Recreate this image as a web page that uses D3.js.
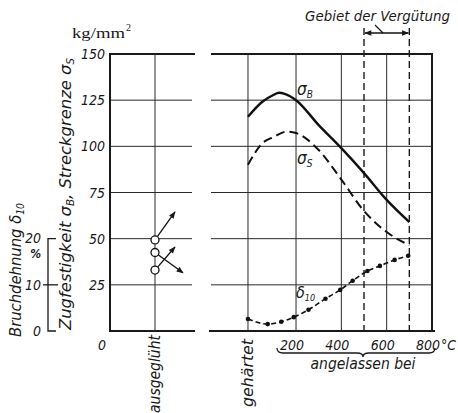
<!DOCTYPE html>
<html>
<head>
<meta charset="utf-8">
<script src="https://cdn.jsdelivr.net/npm/d3@7"></script>
<style>
  body { margin: 0; background: #fff; }
  svg { display: block; }
  text { font-family: "Liberation Sans Narrow", "DejaVu Sans Condensed", sans-serif; font-style: italic; fill: #1a1a1a; }
  .unit { font-family: "Liberation Serif", "DejaVu Serif", serif; font-style: normal; }
  .grid { stroke: #2a2a2a; stroke-width: 1; }
  .frame { stroke: #1a1a1a; stroke-width: 2; }
</style>
</head>
<body>
<div id="chart"></div>
<script>
// values
const kgTicks = [0, 25, 50, 75, 100, 125, 150];
const pctTicks = [0, 10, 20];
const tempTicks = [200, 400, 600, 800];
const hardenedT = -12;          // "gehärtet" column, drawn just left of 0 °C
const quenchDashes = [500, 700]; // Gebiet der Vergütung

const sigmaBTemps = [hardenedT, 50, 100, 125, 150, 200, 300, 400, 500, 600, 700];
const sigmaB      = [116, 124, 127.8, 129, 128.4, 125, 111.5, 99, 85.5, 71, 59];

const sigmaSTemps = [hardenedT, 50, 100, 160, 200, 300, 400, 500, 600, 700];
const sigmaS      = [90, 101.5, 105, 108, 107.2, 98, 82, 65, 53.6, 46.5];

const deltaTemps = [hardenedT, 75, 135, 190, 255, 330, 395, 450, 515, 570, 635, 695];
const delta10    = [2.6, 1.5, 2.0, 3.0, 4.6, 7.0, 8.9, 10.9, 13.0, 14.1, 15.4, 16.3];

// annealed state (ausgeglüht) and the direction each value moves to
const annealed = [
    {name: "sB", value: 49.3, to: 64.5, scale: "kg", dx: 20},
    {name: "d10", value: 17, to: 12.6, scale: "pct", dx: 28},
    {name: "sS", value: 33, to: 45.5, scale: "kg", dx: 20}
];

/**********************
***** BASIC SETUP *****
**********************/

const width = 458;
const height = 413;
const leftPanel = [110, 194];
const rightPanel = [211, 432];

const svg = d3.select("#chart")
    .append("svg")
    .attr("width", width)
    .attr("height", height);

const defs = svg.append("defs");
defs.append("marker")
    .attr("id", "arrow")
    .attr("viewBox", "0 0 10 10")
    .attr("refX", 9).attr("refY", 5)
    .attr("markerWidth", 9).attr("markerHeight", 7)
    .attr("markerUnits", "userSpaceOnUse")
    .attr("orient", "auto-start-reverse")
    .append("path")
    .attr("d", "M0,1 L10,5 L0,9 Z")
    .attr("fill", "#1a1a1a");

/*****************
***** SCALES *****
*****************/

const yKg = d3.scaleLinear().domain([0, 150]).range([331, 54]);
const yPct = d3.scaleLinear().domain([0, 20]).range([yKg(0), yKg(50)]);
const xT = d3.scaleLinear().domain([0, 800]).range([250.7, 432]);
const xL = d3.scalePoint().domain(["ausgeglüht"]).range([leftPanel[0], 200]);

/*******************
***** GRIDLINES *****
*******************/

const grid = svg.append("g");

// horizontal lines, both panels
kgTicks.filter(d => d > 0 && d < 150).forEach(v => {
    grid.append("line").attr("class", "grid")
        .attr("x1", leftPanel[0]).attr("x2", leftPanel[1] - 2)
        .attr("y1", yKg(v)).attr("y2", yKg(v));
    grid.append("line").attr("class", "grid")
        .attr("x1", rightPanel[0]).attr("x2", rightPanel[1])
        .attr("y1", yKg(v)).attr("y2", yKg(v));
});

// top and bottom frame lines
[150, 0].forEach(v => {
    grid.append("line").attr("class", "frame")
        .attr("x1", leftPanel[0] - 1).attr("x2", leftPanel[1] + 1)
        .attr("y1", yKg(v)).attr("y2", yKg(v));
    grid.append("line").attr("class", "frame")
        .attr("x1", rightPanel[0] - (v === 0 ? 2 : 0)).attr("x2", rightPanel[1] + (v === 0 ? 3 : 1))
        .attr("y1", yKg(v)).attr("y2", yKg(v));
});

// left border, right border
grid.append("line").attr("class", "frame")
    .attr("x1", leftPanel[0]).attr("x2", leftPanel[0])
    .attr("y1", yKg(150)).attr("y2", yKg(0));
grid.append("line").attr("class", "frame")
    .attr("x1", xT(800)).attr("x2", xT(800))
    .attr("y1", yKg(150)).attr("y2", yKg(0));

// vertical lines
grid.append("line").attr("class", "grid")
    .attr("x1", xL("ausgeglüht")).attr("x2", xL("ausgeglüht"))
    .attr("y1", yKg(150)).attr("y2", yKg(0));
[hardenedT, 200, 400, 600].forEach(t => {
    grid.append("line").attr("class", "grid")
        .attr("x1", xT(t)).attr("x2", xT(t))
        .attr("y1", yKg(150)).attr("y2", yKg(0));
});
quenchDashes.forEach(t => {
    grid.append("line")
        .attr("x1", xT(t)).attr("x2", xT(t))
        .attr("y1", 28).attr("y2", yKg(0))
        .attr("stroke", "#1a1a1a")
        .attr("stroke-width", 1.4)
        .attr("stroke-dasharray", "7,4");
});

/*******************
***** AXIS TEXT *****
*******************/

const labels = svg.append("g");

labels.selectAll(".kgTick")
    .data(kgTicks.filter(d => d > 0))
    .enter()
    .append("text")
    .attr("class", "kgTick")
    .attr("x", 105)
    .attr("y", d => yKg(d) + 5)
    .attr("text-anchor", "end")
    .attr("font-size", 14)
    .text(d => d);

labels.append("text")
    .attr("x", 102).attr("y", 350)
    .attr("text-anchor", "middle")
    .attr("font-size", 14)
    .text("0");

labels.append("text")
    .attr("class", "unit")
    .attr("x", 72).attr("y", 38)
    .attr("font-size", 15)
    .attr("textLength", 53)
    .attr("lengthAdjust", "spacingAndGlyphs")
    .text("kg/mm");
labels.append("text")
    .attr("class", "unit")
    .attr("x", 126).attr("y", 31)
    .attr("font-size", 10)
    .text("2");

// temperature ticks
labels.selectAll(".tTick")
    .data(tempTicks)
    .enter()
    .append("text")
    .attr("class", "tTick")
    .attr("x", d => xT(d) - 4)
    .attr("y", 350)
    .attr("text-anchor", "middle")
    .attr("font-size", 14)
    .text(d => d);
labels.append("text")
    .attr("x", xT(800) + 9).attr("y", 350)
    .attr("font-size", 14)
    .attr("font-style", "normal")
    .text("°C");

// brace under the tempering temperatures
const bx0 = 277, bx1 = 435, by = 348, bm = (bx0 + bx1) / 2 + 7;
labels.append("path")
    .attr("d", `M${bx0},${by} Q${bx0},${by + 5} ${bx0 + 6},${by + 5} L${bm - 6},${by + 5}
        Q${bm},${by + 5} ${bm},${by + 9} Q${bm},${by + 5} ${bm + 6},${by + 5}
        L${bx1 - 6},${by + 5} Q${bx1},${by + 5} ${bx1},${by}`)
    .attr("fill", "none")
    .attr("stroke", "#1a1a1a")
    .attr("stroke-width", 1.3);
labels.append("text")
    .attr("x", 363).attr("y", 369)
    .attr("text-anchor", "middle")
    .attr("font-size", 15)
    .attr("textLength", 105)
    .attr("lengthAdjust", "spacingAndGlyphs")
    .text("angelassen bei");

// rotated column labels
labels.append("text")
    .attr("transform", `translate(${xL("ausgeglüht") + 5}, 335) rotate(-90)`)
    .attr("text-anchor", "end")
    .attr("font-size", 15)
    .attr("textLength", 78)
    .attr("lengthAdjust", "spacingAndGlyphs")
    .text("ausgeglüht");
labels.append("text")
    .attr("transform", `translate(${xT(hardenedT) + 5}, 339) rotate(-90)`)
    .attr("text-anchor", "end")
    .attr("font-size", 15)
    .attr("textLength", 68)
    .attr("lengthAdjust", "spacingAndGlyphs")
    .text("gehärtet");

// y axis titles
const yTitle = labels.append("text")
    .attr("transform", "translate(71, 330) rotate(-90)")
    .attr("font-size", 16)
    .attr("textLength", 272)
    .attr("lengthAdjust", "spacingAndGlyphs");
yTitle.append("tspan").text("Zugfestigkeit σ");
yTitle.append("tspan").attr("font-size", 10).attr("dy", 3).text("B");
yTitle.append("tspan").attr("dy", -3).text(", Streckgrenze σ");
yTitle.append("tspan").attr("font-size", 10).attr("dy", 3).text("S");

const dTitle = labels.append("text")
    .attr("transform", "translate(21, 337) rotate(-90)")
    .attr("font-size", 16)
    .attr("textLength", 134)
    .attr("lengthAdjust", "spacingAndGlyphs");
dTitle.append("tspan").text("Bruchdehnung δ");
dTitle.append("tspan").attr("font-size", 10).attr("dy", 3).text("10");

// percent axis (bracket)
const pAxisX = 48;
labels.append("path")
    .attr("d", `M${pAxisX + 8},${yPct(20)} H${pAxisX} V${yPct(0)} H${pAxisX + 8}`)
    .attr("fill", "none")
    .attr("stroke", "#1a1a1a")
    .attr("stroke-width", 1.3);
labels.append("line")
    .attr("x1", pAxisX - 5).attr("x2", pAxisX + 10)
    .attr("y1", yPct(10)).attr("y2", yPct(10))
    .attr("stroke", "#1a1a1a").attr("stroke-width", 1.3);
labels.selectAll(".pTick")
    .data(pctTicks)
    .enter()
    .append("text")
    .attr("class", "pTick")
    .attr("x", 41)
    .attr("y", d => yPct(d) + (d === 20 ? 4 : 5))
    .attr("text-anchor", "end")
    .attr("font-size", 14)
    .text(d => d);
labels.append("text")
    .attr("x", 41).attr("y", yPct(20) + 19)
    .attr("text-anchor", "end")
    .attr("font-size", 12)
    .attr("font-weight", "bold")
    .text("%");

/*****************
***** CURVES *****
*****************/

const curves = svg.append("g");

const lineKg = d3.line()
    .x(d => xT(d[0]))
    .y(d => yKg(d[1]))
    .curve(d3.curveMonotoneX);
const linePct = d3.line()
    .x(d => xT(d[0]))
    .y(d => yPct(d[1]))
    .curve(d3.curveMonotoneX);

curves.append("path")
    .attr("d", lineKg(d3.zip(sigmaBTemps, sigmaB)))
    .attr("fill", "none")
    .attr("stroke", "#111")
    .attr("stroke-width", 2.4);

curves.append("path")
    .attr("d", lineKg(d3.zip(sigmaSTemps, sigmaS)))
    .attr("fill", "none")
    .attr("stroke", "#111")
    .attr("stroke-width", 2)
    .attr("stroke-dasharray", "9,5");

curves.append("path")
    .attr("d", linePct(d3.zip(deltaTemps, delta10)))
    .attr("fill", "none")
    .attr("stroke", "#111")
    .attr("stroke-width", 1.6)
    .attr("stroke-dasharray", "5,3");

curves.selectAll(".dPoint")
    .data(d3.zip(deltaTemps, delta10))
    .enter()
    .append("circle")
    .attr("class", "dPoint")
    .attr("cx", d => xT(d[0]))
    .attr("cy", d => yPct(d[1]))
    .attr("r", 2.3)
    .attr("fill", "#111");

// curve labels
const lB = curves.append("text").attr("x", 297).attr("y", 95).attr("font-size", 17);
lB.append("tspan").text("σ");
lB.append("tspan").attr("font-size", 10).attr("dy", 3).text("B");
const lS = curves.append("text").attr("x", 297).attr("y", 164).attr("font-size", 17);
lS.append("tspan").text("σ");
lS.append("tspan").attr("font-size", 10).attr("dy", 3).text("S");
const lD = curves.append("text").attr("x", 296).attr("y", 298).attr("font-size", 16);
lD.append("tspan").text("δ");
lD.append("tspan").attr("font-size", 9).attr("dy", 3).text("10");

/***************************
***** ANNEALED MARKERS *****
***************************/

const yOf = d => d.scale === "kg" ? yKg : yPct;
const ax = xL("ausgeglüht");

curves.selectAll(".annArrow")
    .data(annealed)
    .enter()
    .append("line")
    .attr("class", "annArrow")
    .attr("x1", ax).attr("y1", d => yOf(d)(d.value))
    .attr("x2", d => ax + d.dx).attr("y2", d => yOf(d)(d.to))
    .attr("stroke", "#111")
    .attr("stroke-width", 1.3)
    .attr("marker-end", "url(#arrow)");

curves.selectAll(".annPoint")
    .data(annealed)
    .enter()
    .append("circle")
    .attr("class", "annPoint")
    .attr("cx", ax)
    .attr("cy", d => yOf(d)(d.value))
    .attr("r", 4)
    .attr("fill", "#fff")
    .attr("stroke", "#111")
    .attr("stroke-width", 1.3);

/*******************************
***** GEBIET DER VERGÜTUNG *****
*******************************/

const header = svg.append("g");

header.append("text")
    .attr("x", 305).attr("y", 21)
    .attr("font-size", 14.5)
    .attr("textLength", 145)
    .attr("lengthAdjust", "spacingAndGlyphs")
    .text("Gebiet der Vergütung");

header.append("line")
    .attr("x1", xT(quenchDashes[0]) + 1).attr("x2", xT(quenchDashes[1]) - 1)
    .attr("y1", 33).attr("y2", 33)
    .attr("stroke", "#111")
    .attr("stroke-width", 1.3)
    .attr("marker-start", "url(#arrow)")
    .attr("marker-end", "url(#arrow)");

header.append("line")
    .attr("x1", 375).attr("y1", 25)
    .attr("x2", 383).attr("y2", 33)
    .attr("stroke", "#111")
    .attr("stroke-width", 1.1);
</script>
</body>
</html>
